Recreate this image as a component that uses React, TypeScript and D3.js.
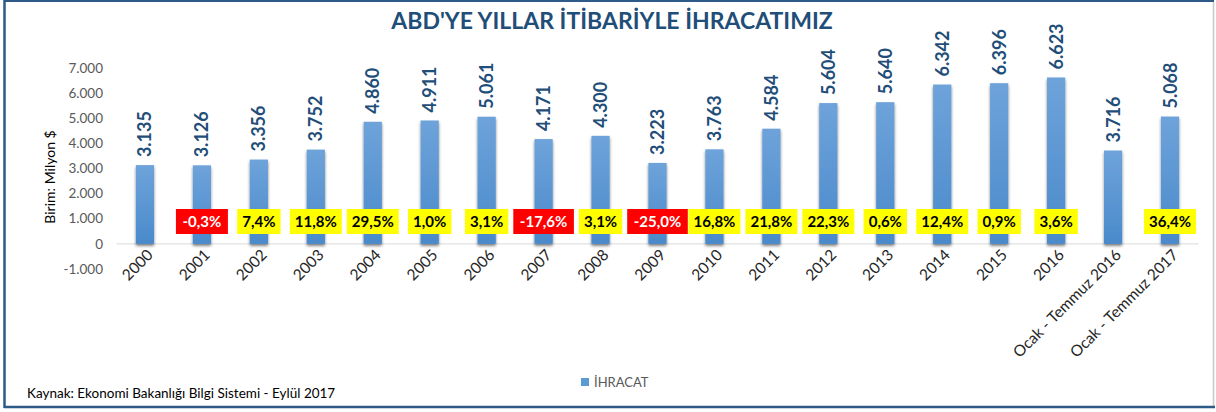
import React from "react";
import * as d3 from "d3";

const categories = ["2000","2001","2002","2003","2004","2005","2006","2007","2008","2009","2010","2011","2012","2013","2014","2015","2016","Ocak - Temmuz 2016","Ocak - Temmuz 2017"];
const values = [3135,3126,3356,3752,4860,4911,5061,4171,4300,3223,3763,4584,5604,5640,6342,6396,6623,3716,5068];
const changes: (number | null)[] = [null,-0.3,7.4,11.8,29.5,1.0,3.1,-17.6,3.1,-25.0,16.8,21.8,22.3,0.6,12.4,0.9,3.6,null,36.4];
const yTicks = [-1000,0,1000,2000,3000,4000,5000,6000,7000];

const W = 1216, H = 412;
const FONT = "Lato, 'Open Sans', sans-serif";

const fmtThousands = (v: number) => {
  const s = Math.abs(v).toString().replace(/\B(?=(\d{3})+(?!\d))/g, ".");
  return (v < 0 ? "-" : "") + s;
};
const fmtPct = (v: number) => v.toFixed(1).replace(".", ",") + "%";

export default function App() {
  const x = d3.scaleBand<string>().domain(categories).range([116.5, 1198.5]).paddingInner(0.68).paddingOuter(0.34);
  const y = d3.scaleLinear().domain([-1000, 7000]).range([269, 68]);
  const bw = x.bandwidth();
  const cx = (c: string) => (x(c) as number) + bw / 2;

  const textWidth = (s: string) => s.length * 8.6;

  return (
    <svg width={W} height={H} style={{ position: "absolute", left: 0, top: 0, background: "#fff" }} fontFamily={FONT}>
      <defs>
        <linearGradient id="barGrad" x1="0" y1="0" x2="0" y2="1">
          <stop offset="0%" stopColor="#6ea3da" />
          <stop offset="100%" stopColor="#4a8acb" />
        </linearGradient>
        <filter id="shadow" x="-50%" y="-10%" width="200%" height="120%">
          <feGaussianBlur in="SourceAlpha" stdDeviation="1.5" />
          <feOffset dx="0" dy="2" result="b" />
          <feComponentTransfer><feFuncA type="linear" slope="0.5" /></feComponentTransfer>
          <feMerge><feMergeNode /><feMergeNode in="SourceGraphic" /></feMerge>
        </filter>
      </defs>

      {/* frame */}
      <rect x={0} y={0} width={W} height={H} fill="#fff" />
      <line x1={1213.5} y1={1} x2={1213.5} y2={406} stroke="#c8c8c8" strokeWidth={1.5} />
      <line x1={4} y1={1} x2={1214} y2={1} stroke="#2e5a88" strokeWidth={2} />
      <line x1={4.5} y1={0} x2={4.5} y2={408} stroke="#2e5a88" strokeWidth={2.5} />
      <line x1={4} y1={407} x2={1215} y2={407} stroke="#2e5a88" strokeWidth={2.5} />

      {/* title */}
      <text x={612} y={29} textAnchor="middle" fontSize={23} fontWeight="bold" fill="#1f4e79">ABD'YE YILLAR İTİBARİYLE İHRACATIMIZ</text>

      {/* y axis title */}
      <text transform={`translate(55,177) rotate(-90)`} textAnchor="middle" fontSize={14} fill="#000">Birim: Milyon $</text>

      {/* y ticks */}
      {yTicks.map(t => (
        <text key={t} x={103} y={y(t)} dy="0.35em" textAnchor="end" fontSize={13.5} fill="#595959">{fmtThousands(t)}</text>
      ))}

      {/* zero line */}
      <line x1={116.5} x2={1198.5} y1={y(0)} y2={y(0)} stroke="#d9d9d9" strokeWidth={1} />

      {/* bars */}
      {categories.map((c, i) => (
        <rect key={c} x={x(c) as number} y={y(values[i])} width={bw} height={y(0) - y(values[i])} fill="url(#barGrad)" filter="url(#shadow)" />
      ))}

      {/* value labels */}
      {categories.map((c, i) => (
        <text key={c} transform={`translate(${cx(c) + 6.5},${y(values[i]) - 8}) rotate(-90)`} textAnchor="start" fontSize={18} fontWeight="bold" fill="#1f4e79">{fmtThousands(values[i])}</text>
      ))}

      {/* change boxes */}
      {categories.map((c, i) => {
        const v = changes[i];
        if (v === null) return null;
        const s = fmtPct(v);
        const w = textWidth(s) + 9;
        const neg = v < 0;
        return (
          <g key={c}>
            <rect x={cx(c) - w / 2} y={209} width={w} height={25} fill={neg ? "#ff0000" : "#ffff00"} />
            <text x={cx(c)} y={221.5} dy="0.36em" textAnchor="middle" fontSize={15} fontWeight="bold" fill={neg ? "#fff" : "#000"}>{s}</text>
          </g>
        );
      })}

      {/* x labels */}
      {categories.map(c => (
        <text key={c} transform={`translate(${cx(c) + 9},${256}) rotate(-45)`} textAnchor="end" fontSize={15.5} fill="#262626">{c}</text>
      ))}

      {/* legend */}
      <rect x={581} y={378} width={8} height={8} fill="#5b9bd5" />
      <text x={594} y={382} dy="0.36em" fontSize={13} fill="#595959">İHRACAT</text>

      {/* source */}
      <text x={27} y={393} dy="0.36em" fontSize={13.5} fill="#000">Kaynak: Ekonomi Bakanlığı Bilgi Sistemi - Eylül 2017</text>
    </svg>
  );
}
